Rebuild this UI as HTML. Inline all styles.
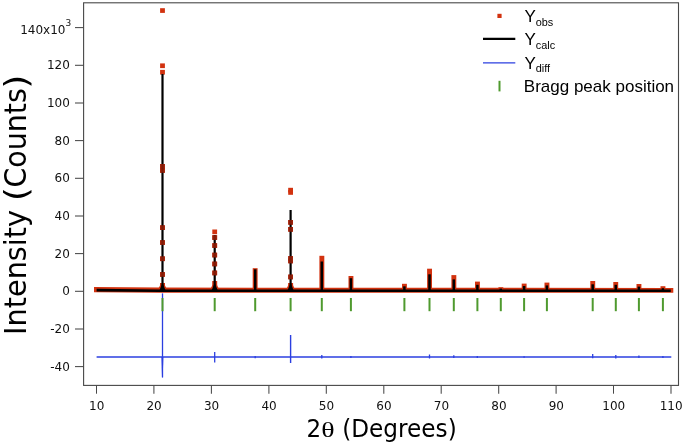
<!DOCTYPE html>
<html lang="en"><head><meta charset="utf-8"><title>XRD Rietveld refinement plot</title>
<style>html,body{margin:0;padding:0;background:#fff}svg{display:block}</style></head>
<body>
<svg width="685" height="446" viewBox="0 0 685 446">
<rect width="685" height="446" fill="#fff"/>
<rect x="83.6" y="2.8" width="594.9" height="382.6" fill="none" stroke="#484848" stroke-width="1.1"/>
<g stroke="#484848" stroke-width="1.05">
<line x1="75.0" y1="366.6" x2="83.6" y2="366.6"/>
<line x1="75.0" y1="329.0" x2="83.6" y2="329.0"/>
<line x1="75.0" y1="291.3" x2="83.6" y2="291.3"/>
<line x1="75.0" y1="253.6" x2="83.6" y2="253.6"/>
<line x1="75.0" y1="216.0" x2="83.6" y2="216.0"/>
<line x1="75.0" y1="178.3" x2="83.6" y2="178.3"/>
<line x1="75.0" y1="140.6" x2="83.6" y2="140.6"/>
<line x1="75.0" y1="103.0" x2="83.6" y2="103.0"/>
<line x1="75.0" y1="65.3" x2="83.6" y2="65.3"/>
<line x1="75.0" y1="27.6" x2="83.6" y2="27.6"/>
<line x1="96.5" y1="385.4" x2="96.5" y2="393.7"/>
<line x1="153.9" y1="385.4" x2="153.9" y2="393.7"/>
<line x1="211.4" y1="385.4" x2="211.4" y2="393.7"/>
<line x1="268.9" y1="385.4" x2="268.9" y2="393.7"/>
<line x1="326.3" y1="385.4" x2="326.3" y2="393.7"/>
<line x1="383.8" y1="385.4" x2="383.8" y2="393.7"/>
<line x1="441.2" y1="385.4" x2="441.2" y2="393.7"/>
<line x1="498.7" y1="385.4" x2="498.7" y2="393.7"/>
<line x1="556.1" y1="385.4" x2="556.1" y2="393.7"/>
<line x1="613.5" y1="385.4" x2="613.5" y2="393.7"/>
<line x1="671.0" y1="385.4" x2="671.0" y2="393.7"/>
</g>
<g font-family="'DejaVu Sans', 'Liberation Sans', sans-serif" font-size="12" fill="#111">
<text x="69.8" y="370.6" text-anchor="end">-40</text>
<text x="69.8" y="333.0" text-anchor="end">-20</text>
<text x="69.8" y="295.3" text-anchor="end">0</text>
<text x="69.8" y="257.6" text-anchor="end">20</text>
<text x="69.8" y="220.0" text-anchor="end">40</text>
<text x="69.8" y="182.3" text-anchor="end">60</text>
<text x="69.8" y="144.6" text-anchor="end">80</text>
<text x="69.8" y="107.0" text-anchor="end">100</text>
<text x="69.8" y="69.3" text-anchor="end">120</text>
<text x="65.5" y="34.0" text-anchor="end">140x10</text>
<text x="65.4" y="25.8" font-size="9">3</text>
<text x="96.7" y="410.1" text-anchor="middle">10</text>
<text x="154.1" y="410.1" text-anchor="middle">20</text>
<text x="211.6" y="410.1" text-anchor="middle">30</text>
<text x="269.1" y="410.1" text-anchor="middle">40</text>
<text x="326.5" y="410.1" text-anchor="middle">50</text>
<text x="383.9" y="410.1" text-anchor="middle">60</text>
<text x="441.4" y="410.1" text-anchor="middle">70</text>
<text x="498.9" y="410.1" text-anchor="middle">80</text>
<text x="556.3" y="410.1" text-anchor="middle">90</text>
<text x="613.8" y="410.1" text-anchor="middle">100</text>
<text x="671.2" y="410.1" text-anchor="middle">110</text>
</g>
<g font-family="'DejaVu Sans', 'Liberation Sans', sans-serif" fill="#000">
<text transform="translate(26.2,334.9) rotate(-90) scale(0.9504,1)" font-size="30.2">Intensity</text>
<text transform="translate(26.5,201.3) rotate(-90) scale(1.126,1)" font-size="32.4">(</text>
<text transform="translate(26.2,187.6) rotate(-90) scale(0.944,1)" font-size="30.2">Counts</text>
<text transform="translate(26.5,88.7) rotate(-90) scale(1.126,1)" font-size="32.4">)</text>
<text transform="translate(306.6,437.2) scale(0.95,1)" font-size="24.2">2</text>
<text transform="translate(321.3,437.4) scale(1.3,1)" font-family="'Liberation Serif', serif" font-size="21.5">θ</text>
<text transform="translate(342.2,437.2) scale(0.958,1)" font-size="24.2">(Degrees)</text>
</g>
<g fill="#d2320f" stroke="none">
<path d="M94.0,287.00 L160.0,287.60 L673.3,287.90 L673.3,292.70 L160.0,292.80 L94.0,292.20Z"/>
<rect x="160.1" y="8.2" width="4.8" height="4.7"/>
<rect x="160.1" y="63.4" width="4.8" height="4.7"/>
<rect x="160.1" y="69.9" width="4.8" height="4.7"/>
<rect x="160.1" y="164.0" width="4.8" height="4.7"/>
<rect x="160.1" y="168.1" width="4.8" height="4.7"/>
<rect x="160.1" y="225.3" width="4.8" height="4.7"/>
<rect x="160.1" y="240.2" width="4.8" height="4.7"/>
<rect x="160.1" y="256.4" width="4.8" height="4.7"/>
<rect x="160.1" y="272.1" width="4.8" height="4.7"/>
<rect x="160.0" y="283.0" width="5" height="7.2"/>
<path d="M157.7,290.2 L160.1,285.2 L164.9,285.2 L167.3,290.2Z"/>
<rect x="212.3" y="229.5" width="4.8" height="4.7"/>
<rect x="212.3" y="235.2" width="4.8" height="4.7"/>
<rect x="212.3" y="243.2" width="4.8" height="4.7"/>
<rect x="212.3" y="252.7" width="4.8" height="4.7"/>
<rect x="212.3" y="261.6" width="4.8" height="4.7"/>
<rect x="212.3" y="270.6" width="4.8" height="4.7"/>
<rect x="212.2" y="281.0" width="5" height="9.2"/>
<path d="M209.9,290.2 L212.3,285.2 L217.1,285.2 L219.5,290.2Z"/>
<rect x="288.2" y="187.8" width="4.8" height="4.7"/>
<rect x="288.2" y="190.1" width="4.8" height="4.7"/>
<rect x="288.2" y="220.0" width="4.8" height="4.7"/>
<rect x="288.2" y="227.0" width="4.8" height="4.7"/>
<rect x="288.2" y="256.1" width="4.8" height="4.7"/>
<rect x="288.2" y="258.6" width="4.8" height="4.7"/>
<rect x="288.2" y="274.6" width="4.8" height="4.7"/>
<rect x="288.1" y="283.0" width="5" height="7.2"/>
<path d="M285.8,290.2 L288.2,285.2 L293.0,285.2 L295.4,290.2Z"/>
<rect x="252.7" y="268.2" width="4.9" height="22.0"/>
<rect x="319.4" y="255.8" width="4.9" height="34.4"/>
<rect x="348.5" y="276.0" width="4.9" height="14.2"/>
<rect x="402.0" y="283.8" width="4.9" height="6.4"/>
<rect x="427.1" y="268.7" width="4.9" height="21.6"/>
<rect x="451.4" y="275.1" width="4.9" height="15.2"/>
<rect x="475.0" y="281.6" width="4.9" height="8.7"/>
<rect x="498.4" y="287.2" width="4.9" height="3.1"/>
<rect x="521.7" y="283.6" width="4.9" height="6.7"/>
<rect x="544.5" y="282.6" width="4.9" height="7.7"/>
<rect x="590.3" y="281.0" width="4.9" height="9.3"/>
<rect x="613.3" y="282.0" width="4.9" height="8.3"/>
<rect x="636.5" y="284.0" width="4.9" height="6.3"/>
<rect x="660.5" y="286.2" width="4.9" height="4.1"/>
</g>
<g stroke="#000" fill="none">
<path d="M96.6,290.12 L160.0,290.70 L670.8,290.80" stroke-width="2.6"/>
<line x1="162.5" y1="74.0" x2="162.5" y2="290.7" stroke-width="2.2"/>
<path d="M159.3,290.7 L162.5,282.7 L165.7,290.7Z" fill="#000" stroke="none"/>
<line x1="214.7" y1="235.0" x2="214.7" y2="290.7" stroke-width="2.2"/>
<path d="M211.5,290.7 L214.7,282.7 L217.9,290.7Z" fill="#000" stroke="none"/>
<line x1="290.6" y1="210.0" x2="290.6" y2="290.7" stroke-width="2.2"/>
<path d="M287.4,290.7 L290.6,282.7 L293.8,290.7Z" fill="#000" stroke="none"/>
<line x1="255.2" y1="269.3" x2="255.2" y2="290.7" stroke-width="2.5"/>
<line x1="321.8" y1="261.5" x2="321.8" y2="290.7" stroke-width="2.5"/>
<line x1="350.9" y1="278.2" x2="350.9" y2="290.7" stroke-width="2.5"/>
<line x1="404.4" y1="286.3" x2="404.4" y2="290.7" stroke-width="2.5"/>
<line x1="429.5" y1="274.3" x2="429.5" y2="290.8" stroke-width="2.5"/>
<line x1="453.8" y1="279.4" x2="453.8" y2="290.8" stroke-width="2.5"/>
<line x1="477.4" y1="284.8" x2="477.4" y2="290.8" stroke-width="2.5"/>
<line x1="500.8" y1="288.6" x2="500.8" y2="290.8" stroke-width="2.5"/>
<line x1="524.1" y1="286.0" x2="524.1" y2="290.8" stroke-width="2.5"/>
<line x1="546.9" y1="285.4" x2="546.9" y2="290.8" stroke-width="2.5"/>
<line x1="592.7" y1="284.3" x2="592.7" y2="290.8" stroke-width="2.5"/>
<line x1="615.8" y1="284.8" x2="615.8" y2="290.8" stroke-width="2.5"/>
<line x1="638.9" y1="286.6" x2="638.9" y2="290.8" stroke-width="2.5"/>
<line x1="662.9" y1="288.2" x2="662.9" y2="290.8" stroke-width="2.5"/>
</g>
<g fill="#96200a" stroke="none" opacity="0.85">
<rect x="160.1" y="164.0" width="4.8" height="4.7"/>
<rect x="160.1" y="168.1" width="4.8" height="4.7"/>
<rect x="160.1" y="225.3" width="4.8" height="4.7"/>
<rect x="160.1" y="240.2" width="4.8" height="4.7"/>
<rect x="160.1" y="256.4" width="4.8" height="4.7"/>
<rect x="160.1" y="272.1" width="4.8" height="4.7"/>
<rect x="212.3" y="235.2" width="4.8" height="4.7"/>
<rect x="212.3" y="243.2" width="4.8" height="4.7"/>
<rect x="212.3" y="252.7" width="4.8" height="4.7"/>
<rect x="212.3" y="261.6" width="4.8" height="4.7"/>
<rect x="212.3" y="270.6" width="4.8" height="4.7"/>
<rect x="288.2" y="220.0" width="4.8" height="4.7"/>
<rect x="288.2" y="227.0" width="4.8" height="4.7"/>
<rect x="288.2" y="256.1" width="4.8" height="4.7"/>
<rect x="288.2" y="258.6" width="4.8" height="4.7"/>
<rect x="288.2" y="274.6" width="4.8" height="4.7"/>
</g>
<g stroke="#2b3fe0" fill="none">
<line x1="96.6" y1="357.0" x2="671.3" y2="357.0" stroke-width="1.3"/>
<line x1="214.7" y1="352" x2="214.7" y2="362.6" stroke-width="1.3"/>
<line x1="255.2" y1="356" x2="255.2" y2="358.2" stroke-width="1.3"/>
<line x1="321.8" y1="355" x2="321.8" y2="358.4" stroke-width="1.3"/>
<line x1="350.9" y1="356" x2="350.9" y2="358" stroke-width="1.3"/>
<line x1="429.5" y1="354.5" x2="429.5" y2="358.5" stroke-width="1.3"/>
<line x1="453.8" y1="355.3" x2="453.8" y2="358" stroke-width="1.3"/>
<line x1="477.3" y1="356" x2="477.3" y2="358" stroke-width="1.3"/>
<line x1="524.1" y1="356.2" x2="524.1" y2="357.8" stroke-width="1.3"/>
<line x1="592.7" y1="354" x2="592.7" y2="358.2" stroke-width="1.3"/>
<line x1="615.8" y1="355" x2="615.8" y2="358.5" stroke-width="1.3"/>
<line x1="638.9" y1="355.5" x2="638.9" y2="358" stroke-width="1.3"/>
<line x1="662.9" y1="356" x2="662.9" y2="358" stroke-width="1.3"/>
<line x1="162.5" y1="293.4" x2="162.5" y2="377.4" stroke-width="1.3"/>
<path d="M161.4,357 L163.4,357 L162.7,377.6 L162.0,377.6Z" fill="#2b3fe0" stroke="none"/>
<line x1="290.6" y1="335" x2="290.6" y2="363" stroke-width="1.4"/>
</g>
<g stroke="#4f9a2e" stroke-width="2">
<line x1="162.5" y1="298" x2="162.5" y2="311.2"/>
<line x1="214.7" y1="298" x2="214.7" y2="311.2"/>
<line x1="255.2" y1="298" x2="255.2" y2="311.2"/>
<line x1="290.6" y1="298" x2="290.6" y2="311.2"/>
<line x1="321.8" y1="298" x2="321.8" y2="311.2"/>
<line x1="350.9" y1="298" x2="350.9" y2="311.2"/>
<line x1="404.4" y1="298" x2="404.4" y2="311.2"/>
<line x1="429.5" y1="298" x2="429.5" y2="311.2"/>
<line x1="453.8" y1="298" x2="453.8" y2="311.2"/>
<line x1="477.4" y1="298" x2="477.4" y2="311.2"/>
<line x1="500.8" y1="298" x2="500.8" y2="311.2"/>
<line x1="524.1" y1="298" x2="524.1" y2="311.2"/>
<line x1="546.9" y1="298" x2="546.9" y2="311.2"/>
<line x1="592.7" y1="298" x2="592.7" y2="311.2"/>
<line x1="615.8" y1="298" x2="615.8" y2="311.2"/>
<line x1="638.9" y1="298" x2="638.9" y2="311.2"/>
<line x1="662.9" y1="298" x2="662.9" y2="311.2"/>
</g>
<rect x="497.4" y="13.8" width="4.2" height="4.2" fill="#d2320f"/>
<line x1="483" y1="38.9" x2="515.3" y2="38.9" stroke="#000" stroke-width="2.2"/>
<line x1="483" y1="62.9" x2="515.3" y2="62.9" stroke="#2b3fe0" stroke-width="1.2"/>
<line x1="499.5" y1="80.8" x2="499.5" y2="91.4" stroke="#4f9a2e" stroke-width="2"/>
<g font-family="'Liberation Sans', sans-serif" font-size="17" fill="#000">
<text x="524.4" y="21.6">Y<tspan font-size="10.9" dy="3.9">obs</tspan></text>
<text x="524.4" y="45.0">Y<tspan font-size="10.9" dy="3.9">calc</tspan></text>
<text x="524.4" y="68.5">Y<tspan font-size="10.9" dy="3.9">diff</tspan></text>
<text x="523.8" y="91.7">Bragg peak position</text>
</g>
</svg>
</body></html>
